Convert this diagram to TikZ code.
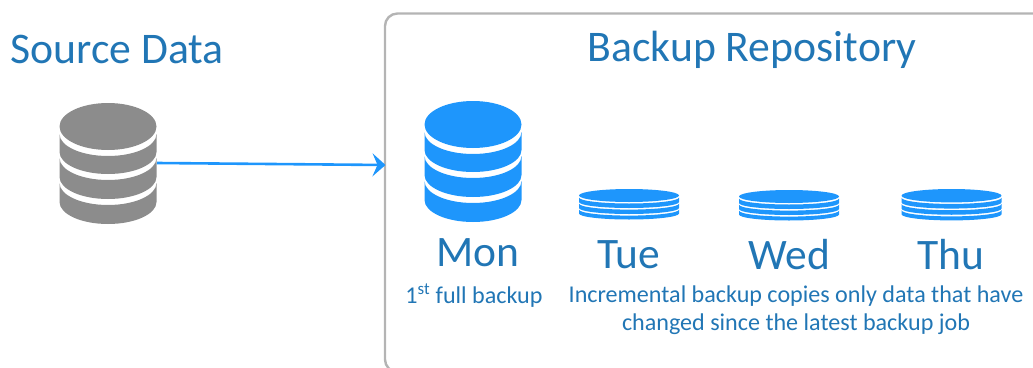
\documentclass[tikz,border=0pt]{standalone}
\usepackage{fontspec}
\setmainfont{Carlito}
\usetikzlibrary{arrows.meta}
\definecolor{txtblue}{HTML}{2176B5}
\definecolor{dbblue}{HTML}{1E96FC}
\definecolor{dbgray}{HTML}{8C8C8C}
\definecolor{boxgray}{HTML}{B4B4B4}
% band: colour, rx, ry, y of top arc's lowest point, y of bottom arc's lowest point
\newcommand{\dbband}[5]{%
  \fill[#1] (-#2,{-(#4-#3)}) arc[start angle=180,end angle=360,x radius=#2,y radius=#3]
    -- (#2,{-(#5-#3)}) arc[start angle=0,end angle=-180,x radius=#2,y radius=#3] -- cycle;}
\newcommand{\dbfull}[3]{% cx, top y, colour
  \begin{scope}[shift={(#1,-#2)}]
    \fill[#3] (0,-23.5) ellipse[x radius=48.5,y radius=23.5];
    \dbband{#3}{48.5}{22}{53}{71}
    \dbband{#3}{48.5}{22}{77}{96}
    \dbband{#3}{48.5}{22}{102}{121}
  \end{scope}}
\newcommand{\dbthin}[3]{% cx, top y, vertical scale
  \begin{scope}[shift={(#1,-#2)},yscale=#3]
    \fill[dbblue] (0,-6.5) ellipse[x radius=50,y radius=6.5];
    \dbband{dbblue}{50}{6}{14.5}{19}
    \dbband{dbblue}{50}{6}{20.6}{25}
    \dbband{dbblue}{50}{6}{26.6}{30.5}
  \end{scope}}
\begin{document}
\begin{tikzpicture}[x=1pt,y=1pt,
  lab/.style={text=txtblue,inner sep=0pt,anchor=center},
  title/.style={lab,font=\fontsize{43.7}{44}\selectfont},
  day/.style={lab,font=\fontsize{43.5}{44}\selectfont},
  small/.style={lab,font=\fontsize{24.1}{28}\selectfont,align=center},
  ]
\useasboundingbox (0,0) rectangle (1033,-367);
\path[clip] (0,0) rectangle (1033,-367);
\draw[boxgray,line width=2.4pt,rounded corners=12.5pt] (1060,-13.5) -- (385,-13.5) -- (385,-372) -- (1060,-372);
\node[title] (src) at (117,-49.5) {Source Data};
\node[title] (rep) at (752,-49.5) {Backup Repository};
\dbfull{108}{103}{dbgray}
\dbfull{473}{101}{dbblue}
\dbthin{629}{189}{1}
\dbthin{789}{190}{1}
\dbthin{951.5}{189}{1.03}
\coordinate (a) at (157,-163);
\coordinate (b) at (385.5,-165);
\draw[dbblue,line width=2.6pt,-{Stealth[length=13pt,width=23pt,inset=5pt]}] (a) -- (b);
\node[day] (mon) at (478,-252.5) {Mon};
\node[day] (tue) at (629,-254.5) {Tue};
\node[day] (wed) at (789,-254.5) {Wed};
\node[day] (thu) at (951,-254.5) {Thu};
\node[small] (f) at (474,-296) {1\textsuperscript{st} full backup};
\node[small] (i) at (796,-310) {Incremental backup copies only data that have\\changed since the latest backup job};
\end{tikzpicture}
\end{document}
